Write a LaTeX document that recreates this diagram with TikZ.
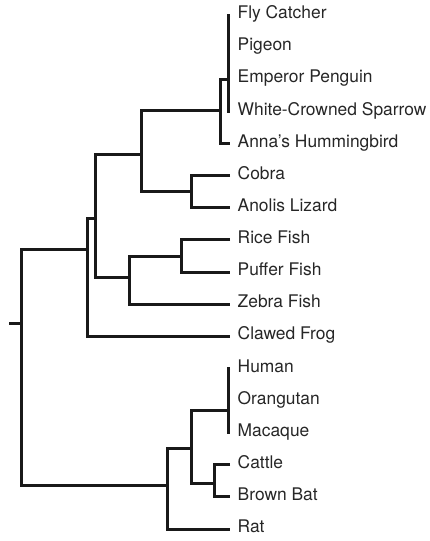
\documentclass[tikz,border=0pt]{standalone}
\usepackage{fontspec}
\setmainfont{TeX Gyre Heros}
\usetikzlibrary{positioning}

\begin{document}
\begin{tikzpicture}[x=1pt, y=-1pt,
    branch/.style = {draw=black!90, line width=3pt, line join=miter},
    leaf/.style = {anchor=west, inner xsep=7.5pt, inner ysep=0pt, text height=0.72em, text depth=0pt,
        text=black!85, font=\fontsize{17.4}{19}\selectfont}]
    \useasboundingbox (0,0) rectangle (430,541);
    % leaves
    \node[leaf] (flycatcher) at (230,15) {Fly Catcher};
    \node[leaf] (pigeon) at (230,47.1) {Pigeon};
    \node[leaf] (penguin) at (230,79.3) {Emperor Penguin};
    \node[leaf] (sparrow) at (230,111.4) {White-Crowned Sparrow};
    \node[leaf] (hummingbird) at (230,143.5) {Anna's Hummingbird};
    \node[leaf] (cobra) at (230,175.6) {Cobra};
    \node[leaf] (anolis) at (230,207.8) {Anolis Lizard};
    \node[leaf] (ricefish) at (230,239.9) {Rice Fish};
    \node[leaf] (pufferfish) at (230,272) {Puffer Fish};
    \node[leaf] (zebrafish) at (230,304.1) {Zebra Fish};
    \node[leaf] (frog) at (230,336.3) {Clawed Frog};
    \node[leaf] (human) at (230,368.4) {Human};
    \node[leaf] (orangutan) at (230,400.5) {Orangutan};
    \node[leaf] (macaque) at (230,432.6) {Macaque};
    \node[leaf] (cattle) at (230,464.8) {Cattle};
    \node[leaf] (bat) at (230,496.9) {Brown Bat};
    \node[leaf] (rat) at (230,529) {Rat};
    % inner nodes
    \coordinate (stem) at (9,323);
    \coordinate (root) at (21,323);
    \coordinate (tetrapods) at (87,249);
    \coordinate (vertebrates) at (95,218);
    \coordinate (amniotes) at (141,154);
    \coordinate (birds) at (220,110);
    \coordinate (perching) at (228,79.3);
    \coordinate (reptiles) at (191,191);
    \coordinate (fish) at (129,277);
    \coordinate (pufferrice) at (181,256);
    \coordinate (mammals) at (167,485);
    \coordinate (placentals) at (191,448);
    \coordinate (primates) at (228,410);
    \coordinate (laurasia) at (214,483);
    % branches
    \draw[branch] (stem) -- (root);
    \draw[branch] (tetrapods) -| (root) |- (mammals);
    \draw[branch] (vertebrates) -| (tetrapods) |- (frog);
    \draw[branch] (amniotes) -| (vertebrates) |- (fish);
    \draw[branch] (birds) -| (amniotes) |- (reptiles);
    \draw[branch] (perching) -| (birds) |- (hummingbird);
    \draw[branch] (flycatcher) -| (perching) |- (sparrow);
    \draw[branch] (perching |- pigeon) -- (pigeon);
    \draw[branch] (perching) -- (penguin);
    \draw[branch] (cobra) -| (reptiles) |- (anolis);
    \draw[branch] (pufferrice) -| (fish) |- (zebrafish);
    \draw[branch] (ricefish) -| (pufferrice) |- (pufferfish);
    \draw[branch] (placentals) -| (mammals) |- (rat);
    \draw[branch] (primates) -| (placentals) |- (laurasia);
    \draw[branch] (human) -| (primates) |- (macaque);
    \draw[branch] (primates |- orangutan) -- (orangutan);
    \draw[branch] (cattle) -| (laurasia) |- (bat);
\end{tikzpicture}
\end{document}
